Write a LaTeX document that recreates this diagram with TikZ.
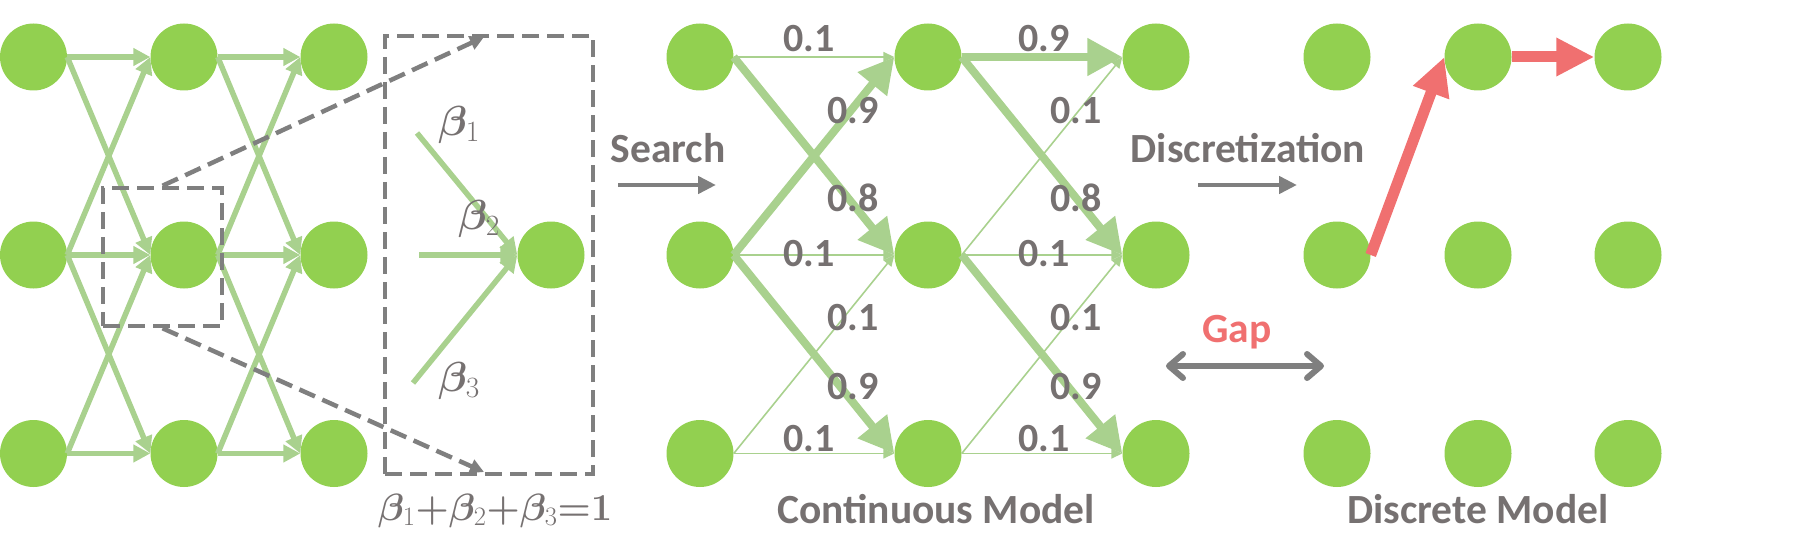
\RequirePackage{fix-cm}
\documentclass[tikz,border=0pt]{standalone}
\usepackage{bm}
\usepackage[no-math]{fontspec}
\setmainfont{Carlito}
\usetikzlibrary{arrows.meta}
\definecolor{nodegreen}{HTML}{92D050}
\definecolor{edgegreen}{HTML}{A9D18E}
\definecolor{txtgrey}{HTML}{767171}
\definecolor{lngrey}{HTML}{7F7F7F}
\definecolor{redarr}{HTML}{F07070}
\tikzset{
  nd/.style={circle, fill=nodegreen, minimum size=67pt, inner sep=0pt},
  ledge/.style={draw=edgegreen, line width=5.5pt, -{Triangle[length=17pt,width=17pt]}},
  wk/.style={draw=edgegreen, line width=1.6pt, -{Triangle[length=11pt,width=10pt]}},
  sg/.style={draw=edgegreen, line width=8pt, -{Triangle[length=35pt,width=36pt]}},
  lbl/.style={text=txtgrey, font=\fontsize{40}{44}\selectfont\bfseries, inner sep=0pt},
  ttl/.style={text=txtgrey, font=\fontsize{41.5}{46}\selectfont\bfseries, inner sep=0pt},
  blbl/.style={text=txtgrey, font=\fontsize{38}{42}\selectfont, inner sep=0pt},
  bin/.style={text=txtgrey, font=\fontsize{42}{46}\selectfont, inner sep=0pt},
  dbox/.style={draw=lngrey, line width=4.5pt, dash pattern=on 17pt off 8pt, inner sep=0pt},
  darr/.style={draw=lngrey, line width=4.5pt, dash pattern=on 17pt off 8pt, -{Triangle[length=14pt,width=14pt]}},
  garr/.style={draw=lngrey, line width=4.6pt, -{Triangle[length=18pt,width=17pt]}},
  rarr/.style={draw=redarr, line width=11pt, -{Triangle[length=38pt,width=36pt]}},
}
\newcommand{\bb}[1]{\bm{\beta}_{#1}}
\begin{document}
\begin{tikzpicture}[x=1pt,y=-1pt]
\useasboundingbox (0,0) rectangle (1810,559);
% ---------- left network ----------
\foreach \c/\x in {1/33.5,2/184,3/334}{
  \node[nd] (L\c t) at (\x,57) {};
  \node[nd] (L\c m) at (\x,255) {};
  \node[nd] (L\c b) at (\x,453.5) {};
}
\foreach \a/\b in {1/2,2/3}{
  \draw[ledge] (L\a t.east) -- (L\b t.west);
  \draw[ledge] (L\a m.east) -- (L\b t.west);
  \draw[ledge] (L\a t.east) -- (L\b m.west);
  \draw[ledge] (L\a m.east) -- (L\b m.west);
  \draw[ledge] (L\a b.east) -- (L\b m.west);
  \draw[ledge] (L\a m.east) -- (L\b b.west);
  \draw[ledge] (L\a b.east) -- (L\b b.west);
}
% zoom boxes
\node[dbox, minimum width=119pt, minimum height=138pt] (sbox) at (162.5,257) {};
\node[dbox, minimum width=208pt, minimum height=438pt] (bbox) at (489,255) {};
\coordinate (t1) at (484,37);
\coordinate (t2) at (484,472);
\draw[darr] (sbox.north) -- (t1);
\draw[darr] (sbox.south) -- (t2);
% inside big box
\node[nd] (bn) at (551,255) {};
\coordinate (b1) at (417,133);
\coordinate (b2) at (419,255);
\coordinate (b3) at (413,383);
\draw[ledge] (b1) -- (bn.west);
\draw[ledge] (b2) -- (bn.west);
\draw[ledge] (b3) -- (bn.west);
\node[bin] (lb1) at (459,125) {$\bb1$};
\node[bin] (lb2) at (479,219) {$\bb2$};
\node[bin] (lb3) at (459,381) {$\bb3$};
\node[blbl, anchor=base] (sum) at (495,520) {$\bb1{\bm{+}}\bb2{\bm{+}}\bb3{\bm{=}}\mathbf{1}$};
% ---------- search ----------
\node[ttl, anchor=base] (search) at (668,162) {Search};
\coordinate (sA) at (618,185);
\coordinate (sB) at (716,185);
\draw[garr] (sA) -- (sB);
% ---------- continuous model ----------
\foreach \c/\x in {1/700,2/928,3/1156}{
  \node[nd] (C\c t) at (\x,57) {};
  \node[nd] (C\c m) at (\x,255) {};
  \node[nd] (C\c b) at (\x,453.5) {};
}
\draw[wk] (C1t.east) -- (C2t.west);
\draw[sg] (C1m.east) -- (C2t.west);
\draw[sg] (C1t.east) -- (C2m.west);
\draw[wk] (C1m.east) -- (C2m.west);
\draw[wk] (C1b.east) -- (C2m.west);
\draw[sg] (C1m.east) -- (C2b.west);
\draw[wk] (C1b.east) -- (C2b.west);
\draw[sg] (C2t.east) -- (C3t.west);
\draw[wk] (C2m.east) -- (C3t.west);
\draw[sg] (C2t.east) -- (C3m.west);
\draw[wk] (C2m.east) -- (C3m.west);
\draw[wk] (C2b.east) -- (C3m.west);
\draw[sg] (C2m.east) -- (C3b.west);
\draw[wk] (C2b.east) -- (C3b.west);
\node[lbl] (w1) at (809,39) {0.1};
\node[lbl] (w2) at (853,111) {0.9};
\node[lbl] (w3) at (853,198) {0.8};
\node[lbl] (w4) at (809,254) {0.1};
\node[lbl] (w5) at (853,318) {0.1};
\node[lbl] (w6) at (853,387) {0.9};
\node[lbl] (w7) at (809,439) {0.1};
\node[lbl] (v1) at (1044,39) {0.9};
\node[lbl] (v2) at (1076,111) {0.1};
\node[lbl] (v3) at (1076,198) {0.8};
\node[lbl] (v4) at (1044,254) {0.1};
\node[lbl] (v5) at (1076,318) {0.1};
\node[lbl] (v6) at (1076,387) {0.9};
\node[lbl] (v7) at (1044,439) {0.1};
\node[ttl, anchor=base] (cm) at (936,523) {Continuous Model};
% ---------- discretization ----------
\node[ttl, anchor=base] (disc) at (1248,162) {Discretization};
\coordinate (dA) at (1198,185);
\coordinate (dB) at (1297,185);
\draw[garr] (dA) -- (dB);
\node[ttl, text=redarr, anchor=base] (gap) at (1237,342) {Gap};
\coordinate (gL) at (1166,366);
\coordinate (gR) at (1324,366);
\draw[draw=lngrey, line width=6pt, {Straight Barb[length=14pt,width=24pt,line cap=round,line join=round]}-{Straight Barb[length=14pt,width=24pt,line cap=round,line join=round]}] (gL) -- (gR);
% ---------- discrete model ----------
\foreach \c/\x in {1/1337,2/1478,3/1628}{
  \node[nd] (D\c t) at (\x,57) {};
  \node[nd] (D\c m) at (\x,255) {};
  \node[nd] (D\c b) at (\x,453.5) {};
}
\draw[rarr] (D1m.east) -- (D2t.west);
\draw[rarr] (D2t.east) -- (D3t.west);
\node[ttl, anchor=base] (dm) at (1478,523) {Discrete Model};
\end{tikzpicture}
\end{document}
